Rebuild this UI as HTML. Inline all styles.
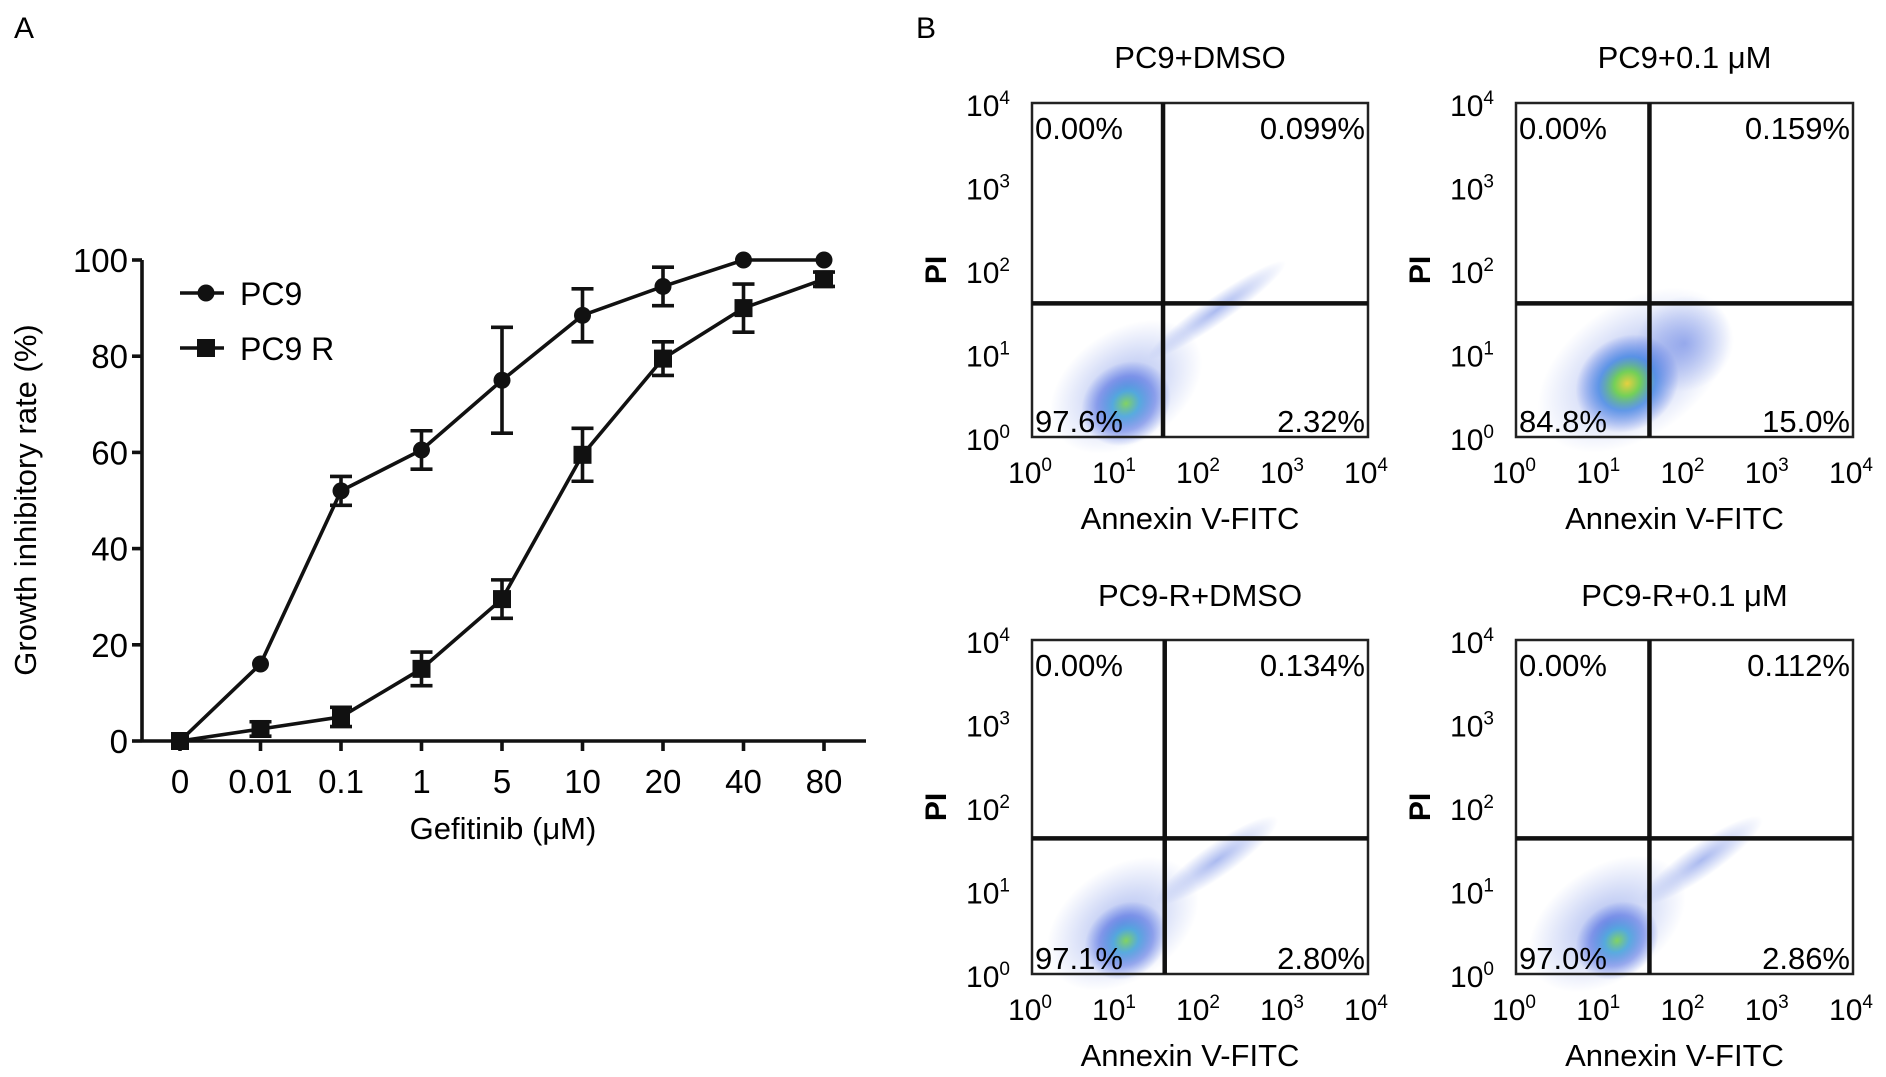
<!DOCTYPE html>
<html><head><meta charset="utf-8">
<style>
html,body{margin:0;padding:0;background:#fff;}
svg{display:block;font-family:"Liberation Sans",Arial,sans-serif;}
</style></head>
<body>
<svg id="fig" width="1886" height="1077" viewBox="0 0 1886 1077" xmlns="http://www.w3.org/2000/svg">
<defs>
<radialGradient id="blob" cx="50%" cy="50%" r="50%">
<stop offset="0%" stop-color="#7fd35a" stop-opacity="0.95"/>
<stop offset="30%" stop-color="#3aa0d8" stop-opacity="0.8"/>
<stop offset="65%" stop-color="#3355dd" stop-opacity="0.45"/>
<stop offset="100%" stop-color="#3355dd" stop-opacity="0"/>
</radialGradient>
<radialGradient id="blobHot" cx="50%" cy="50%" r="50%">
<stop offset="0%" stop-color="#e6d040" stop-opacity="1"/>
<stop offset="25%" stop-color="#70d050" stop-opacity="0.95"/>
<stop offset="55%" stop-color="#2f7be0" stop-opacity="0.7"/>
<stop offset="100%" stop-color="#3355dd" stop-opacity="0"/>
</radialGradient>
<radialGradient id="thin" cx="50%" cy="50%" r="50%">
<stop offset="0%" stop-color="#4466dd" stop-opacity="0.45"/>
<stop offset="100%" stop-color="#4466dd" stop-opacity="0"/>
</radialGradient>
</defs>
<text x="14" y="38" font-size="30">A</text>
<text x="916" y="38" font-size="30">B</text>
<g id="chartA"></g>
<g id="chartB"></g>
</svg>
<script>
const categories = ["0","0.01","0.1","1","5","10","20","40","80"];
const pc9Values = [0,16,52,60.5,75,88.5,94.5,100,100];
const pc9Errors = [0,0,3,4,11,5.5,4,0,0];
const pc9rValues = [0,2.5,5,15,29.5,59.5,79.5,90,96];
const pc9rErrors = [0,1.5,2,3.5,4,5.5,3.5,5,1.5];
const yTicks = [0,20,40,60,80,100];

const panelTitles = ["PC9+DMSO","PC9+0.1 \u03bcM","PC9-R+DMSO","PC9-R+0.1 \u03bcM"];
const quadUL = ["0.00%","0.00%","0.00%","0.00%"];
const quadUR = ["0.099%","0.159%","0.134%","0.112%"];
const quadLL = ["97.6%","84.8%","97.1%","97.0%"];
const quadLR = ["2.32%","15.0%","2.80%","2.86%"];
const logTicks = [0,1,2,3,4];

const NS="http://www.w3.org/2000/svg";
function mk(parent,tag,attrs,text){
  const e=document.createElementNS(NS,tag);
  for(const k in attrs) e.setAttribute(k,attrs[k]);
  if(text!==undefined) e.textContent=text;
  parent.appendChild(e); return e;
}

// ---------- Panel A ----------
const A=document.getElementById('chartA');
const ax={x0:142,x1:866,y0:741,y1:260,c0:180,step:80.5};
const xScale=i=>ax.c0+i*ax.step;
const yScale=v=>ax.y0-(v/100)*(ax.y0-ax.y1);
const SW=3.6;
let l;
l=mk(A,'line',{x1:ax.x0,y1:ax.y0,x2:ax.x1,y2:ax.y0,stroke:'#111','stroke-width':SW});


l=mk(A,'line',{x1:ax.x0,y1:ax.y0+1,x2:ax.x0,y2:ax.y1,stroke:'#111','stroke-width':SW});


yTicks.forEach(v=>{
  mk(A,'line',{x1:ax.x0-10,y1:yScale(v),x2:ax.x0,y2:yScale(v),stroke:'#111','stroke-width':SW});
  const t=mk(A,'text',{x:ax.x0-14,y:yScale(v)+12,'font-size':33,'text-anchor':'end'},String(v));
  
  
});
categories.forEach((c,i)=>{
  mk(A,'line',{x1:xScale(i),y1:ax.y0,x2:xScale(i),y2:ax.y0+10,stroke:'#111','stroke-width':SW});
  const t=mk(A,'text',{x:xScale(i),y:793,'font-size':33,'text-anchor':'middle'},c);
  
  
});
let tt=mk(A,'text',{x:503,y:839,'font-size':31,'text-anchor':'middle'},'Gefitinib (\u03bcM)');


tt=mk(A,'text',{x:0,y:0,'font-size':31,'text-anchor':'middle',transform:'translate(36,500) rotate(-90)'},'Growth inhibitory rate (%)');



function series(vals,errs,shape,name){
  const g=mk(A,'g',{});
  
  
  const pts=vals.map((v,i)=>xScale(i)+','+yScale(v)).join(' ');
  mk(g,'polyline',{points:pts,fill:'none',stroke:'#111','stroke-width':SW});
  vals.forEach((v,i)=>{
    const x=xScale(i),e=errs[i];
    if(e>0){
      mk(g,'line',{x1:x,y1:yScale(v+e),x2:x,y2:yScale(v-e),stroke:'#111','stroke-width':SW});
      mk(g,'line',{x1:x-11,y1:yScale(v+e),x2:x+11,y2:yScale(v+e),stroke:'#111','stroke-width':SW});
      mk(g,'line',{x1:x-11,y1:yScale(v-e),x2:x+11,y2:yScale(v-e),stroke:'#111','stroke-width':SW});
    }
    let m;
    if(shape==='circle') m=mk(g,'circle',{cx:x,cy:yScale(v),r:8.5,fill:'#111'});
    else m=mk(g,'rect',{x:x-9,y:yScale(v)-9,width:18,height:18,fill:'#111'});
    
    
  });
}
series(pc9rValues,pc9rErrors,'square','pc9r-series');
series(pc9Values,pc9Errors,'circle','pc9-series');

// legend
let lg=mk(A,'g',{});


mk(lg,'line',{x1:180,y1:293,x2:224,y2:293,stroke:'#111','stroke-width':SW});
mk(lg,'circle',{cx:206,cy:293,r:8.5,fill:'#111'});
mk(lg,'text',{x:240,y:305,'font-size':32},'PC9');
lg=mk(A,'g',{});


mk(lg,'line',{x1:180,y1:348,x2:224,y2:348,stroke:'#111','stroke-width':SW});
mk(lg,'rect',{x:197,y:339,width:18,height:18,fill:'#111'});
mk(lg,'text',{x:240,y:360,'font-size':32},'PC9 R');

// ---------- Panel B ----------
const B=document.getElementById('chartB');
const boxes=[
 {x:1032,y:103,w:336,h:334,vx:0.39,hy:0.60,title:68},
 {x:1516,y:103,w:337,h:334,vx:0.396,hy:0.60,title:68},
 {x:1032,y:640,w:336,h:334,vx:0.395,hy:0.594,title:606},
 {x:1516,y:640,w:337,h:334,vx:0.396,hy:0.594,title:606}
];
const blobs=[
 [{cx:0.28,cy:0.85,rx:0.25,ry:0.17,f:'thin'},{cx:0.28,cy:0.9,rx:0.14,ry:0.12,f:'blob'},{cx:0.55,cy:0.62,rx:0.25,ry:0.04,f:'thin'}],
 [{cx:0.35,cy:0.8,rx:0.32,ry:0.2,f:'thin'},{cx:0.33,cy:0.84,rx:0.16,ry:0.14,f:'blobHot'},{cx:0.5,cy:0.72,rx:0.15,ry:0.14,f:'thin'}],
 [{cx:0.27,cy:0.85,rx:0.25,ry:0.17,f:'thin'},{cx:0.28,cy:0.9,rx:0.13,ry:0.11,f:'blob'},{cx:0.55,cy:0.66,rx:0.22,ry:0.05,f:'thin'}],
 [{cx:0.27,cy:0.85,rx:0.26,ry:0.17,f:'thin'},{cx:0.3,cy:0.9,rx:0.13,ry:0.11,f:'blob'},{cx:0.55,cy:0.66,rx:0.22,ry:0.05,f:'thin'}]
];
boxes.forEach((b,i)=>{
  const g=mk(B,'g',{});
  
  
  let t=mk(g,'text',{x:b.x+b.w/2,y:b.title,'font-size':31,'text-anchor':'middle'},panelTitles[i]);
  
  
  blobs[i].forEach(q=>{
    mk(g,'ellipse',{cx:b.x+q.cx*b.w,cy:b.y+q.cy*b.h,rx:q.rx*b.w,ry:q.ry*b.h,fill:'url(#'+q.f+')',transform:'rotate(-35 '+(b.x+q.cx*b.w)+' '+(b.y+q.cy*b.h)+')'});
  });
  mk(g,'rect',{x:b.x,y:b.y,width:b.w,height:b.h,fill:'none',stroke:'#222','stroke-width':2.5});
  const vx=b.x+b.vx*b.w, hy=b.y+b.hy*b.h;
  mk(g,'line',{x1:vx,y1:b.y,x2:vx,y2:b.y+b.h,stroke:'#111','stroke-width':4.5});
  mk(g,'line',{x1:b.x,y1:hy,x2:b.x+b.w,y2:hy,stroke:'#111','stroke-width':4.5});
  logTicks.forEach(k=>{
    const yy=b.y+b.h-(k/4)*b.h, xx=b.x+(k/4)*b.w;
    let s=mk(g,'text',{x:b.x-22,y:yy+13,'font-size':30,'text-anchor':'end'});
    mk(s,'tspan',{},'10');
    mk(s,'tspan',{dy:-12,'font-size':19},String(k));
    
    
    s=mk(g,'text',{x:xx-2,y:b.y+b.h+46,'font-size':30,'text-anchor':'middle'});
    mk(s,'tspan',{},'10');
    mk(s,'tspan',{dy:-12,'font-size':19},String(k));
    
    
  });
  t=mk(g,'text',{x:b.x+b.w/2-10,y:b.y+b.h+92,'font-size':31,'text-anchor':'middle'},'Annexin V-FITC');
  
  
  t=mk(g,'text',{x:0,y:0,'font-size':30,'font-weight':'bold','text-anchor':'middle',transform:'translate('+(b.x-86)+','+(b.y+b.h*0.5)+') rotate(-90)'},'PI');
  
  
  const fs=31;
  t=mk(g,'text',{x:b.x+3,y:b.y+36,'font-size':fs},quadUL[i]);
  
  
  t=mk(g,'text',{x:b.x+b.w-3,y:b.y+36,'font-size':fs,'text-anchor':'end'},quadUR[i]);
  
  
  t=mk(g,'text',{x:b.x+3,y:b.y+b.h-5,'font-size':fs},quadLL[i]);
  
  
  t=mk(g,'text',{x:b.x+b.w-3,y:b.y+b.h-5,'font-size':fs,'text-anchor':'end'},quadLR[i]);
  
  
});
</script>
</body></html>
